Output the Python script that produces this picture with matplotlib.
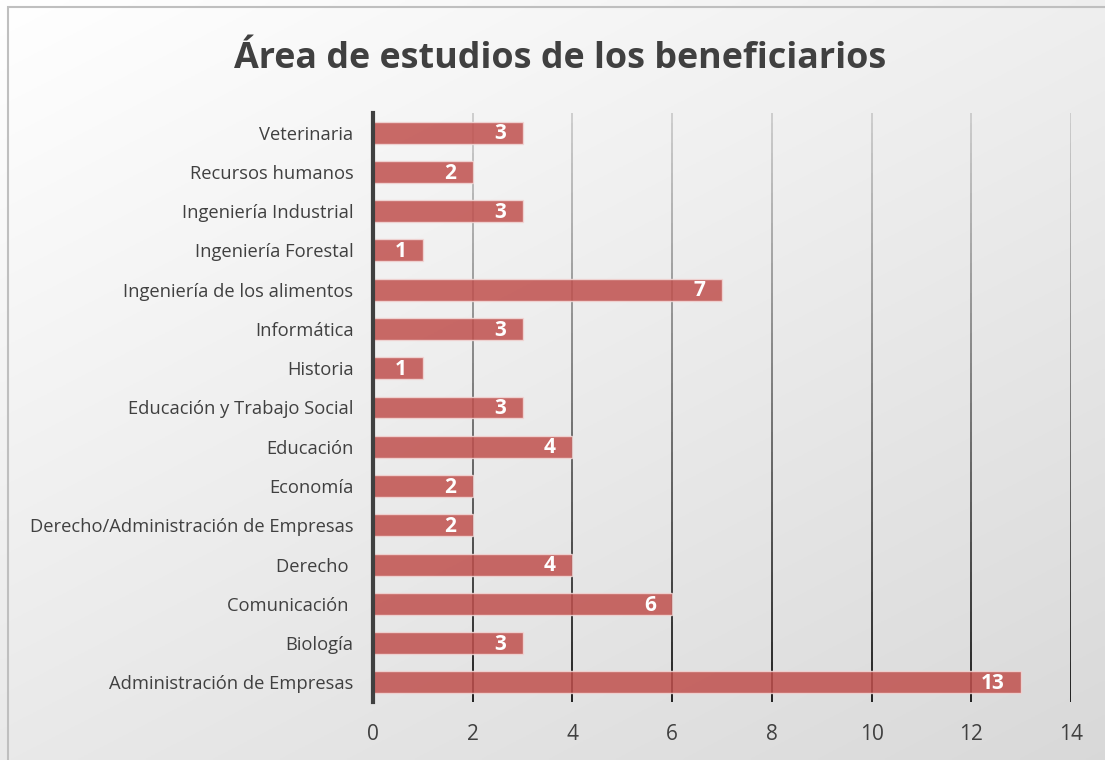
import numpy as np
import matplotlib.pyplot as plt
from matplotlib.collections import LineCollection
from matplotlib.patches import Rectangle

areas = ["Administración de Empresas", "Biología", "Comunicación ", "Derecho ",
         "Derecho/Administración de Empresas", "Economía", "Educación",
         "Educación y Trabajo Social", "Historia", "Informática",
         "Ingeniería de los alimentos", "Ingeniería Forestal",
         "Ingeniería Industrial", "Recursos humanos", "Veterinaria"]
beneficiarios = [13, 3, 6, 4, 2, 2, 4, 3, 1, 3, 7, 1, 3, 2, 3]
x_ticks = [0, 2, 4, 6, 8, 10, 12, 14]

plt.rcParams['font.family'] = ['Open Sans', 'DejaVu Sans']
txt = '#404040'

fig = plt.figure(figsize=(11.05, 7.6), dpi=100)

# background gradient (white top-left -> light gray bottom-right)
bg = fig.add_axes([0, 0, 1, 1], zorder=-10)
gx, gy = np.meshgrid(np.linspace(0, 1, 300), np.linspace(0, 1, 300))
g = 1.0 - 0.15 * np.clip((gx * 0.6 + gy * 0.8) / 1.4, 0, 1)
bg.imshow(np.dstack([g, g, g]), extent=[0, 1, 0, 1], aspect='auto', origin='upper')
bg.add_patch(Rectangle((8 / 1105, -0.01), 1.0, (760 - 7) / 760 + 0.01,
                       transform=bg.transAxes, fill=False, edgecolor='#bfbfbf', lw=1.5))
bg.set_xlim(0, 1)
bg.set_ylim(0, 1)
bg.axis('off')

ax = fig.add_axes([373 / 1105, 58 / 760, 698 / 1105, 589 / 760])
ax.patch.set_alpha(0)

y = np.arange(len(areas))
ax.set_ylim(-0.5, len(areas) - 0.5)
ax.set_xlim(0, 14)

# gridlines darker toward the bottom
for xv in x_ticks[1:]:
    ys = np.linspace(-0.5, len(areas) - 0.5, 60)
    segs = [[(xv, ys[i]), (xv, ys[i + 1])] for i in range(len(ys) - 1)]
    shade = np.linspace(0.0, 0.78, len(segs))
    cols = [(s, s, s) for s in shade]
    ax.add_collection(LineCollection(segs, colors=cols, linewidths=1.2, zorder=1))

bars = ax.barh(y, beneficiarios, height=0.56, color='#C0504D', alpha=0.85,
               edgecolor='#f2d8d7', linewidth=1, zorder=2)
for yi, v in zip(y, beneficiarios):
    ax.text(v - 0.33, yi - 0.03, str(v), ha='right', va='center', color='white',
            fontsize=15, fontweight='bold', zorder=3)

ax.set_yticks(y)
ax.set_yticklabels(areas, fontsize=13.2, color=txt)
ax.set_xticks(x_ticks)
ax.set_xticklabels([str(t) for t in x_ticks], fontsize=15, color=txt)
ax.tick_params(axis='y', length=0, pad=14)
ax.tick_params(axis='x', length=0, pad=16)
for s in ['top', 'right', 'bottom']:
    ax.spines[s].set_visible(False)
ax.spines['left'].set_color('#404040')
ax.spines['left'].set_linewidth(3)
ax.spines['left'].set_zorder(4)

fig.text(560 / 1105, 1 - 59 / 760, "Área de estudios de los beneficiarios",
         ha='center', va='center', fontsize=25.8, fontweight='bold', color=txt)

fig.savefig('out.png', dpi=100)
